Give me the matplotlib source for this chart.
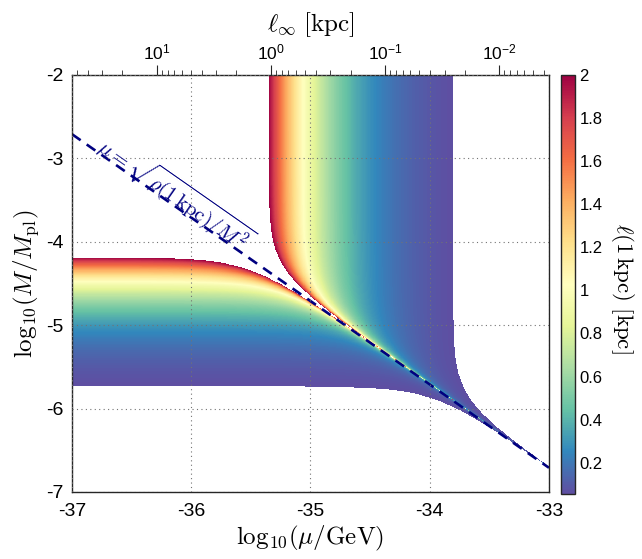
import numpy as np
import matplotlib
matplotlib.use("Agg")
import matplotlib.pyplot as plt

plt.rcParams['font.family'] = ['Liberation Sans', 'DejaVu Sans']
plt.rcParams['mathtext.fontset'] = 'cm'
plt.rcParams['axes.unicode_minus'] = False

# axis ranges (log10 mu/GeV, log10 M/Mpl) and top axis range in kpc
log_mu_lim = [-37, -33]
log_M_lim = [-7, -2]
ell_inf_lim = [55.2, 0.00365]
x_ticks = [-37, -36, -35, -34, -33]
y_ticks = [-7, -6, -5, -4, -3, -2]

# values
log_sqrt_rho = -39.71   # dashed line: log M = log_sqrt_rho - log mu
log_A = -35.053         # far above the line: ell = 10**log_A / mu
log_B = -35.215         # far below the line: ell = 10**log_B / mu_s(M)
ell_min, ell_max = 0.057, 2.0
cbar_ticks = [0.2, 0.4, 0.6, 0.8, 1.0, 1.2, 1.4, 1.6, 1.8, 2.0]
cbar_labels = ['0.2', '0.4', '0.6', '0.8', '1', '1.2', '1.4', '1.6', '1.8', '2']

navy = '#000080'

# ell(1 kpc) on a grid
x = np.linspace(log_mu_lim[0], log_mu_lim[1], 1400)
y = np.linspace(log_M_lim[0], log_M_lim[1], 1200)
X, Y = np.meshgrid(x, y)
log_mus = log_sqrt_rho - Y
r2 = 10.0 ** (2 * (X - log_mus))
with np.errstate(divide='ignore', invalid='ignore'):
    ell_above = 10.0 ** (log_A - X) / np.sqrt(1 - 1 / r2)
    ell_below = 10.0 ** (log_B - log_mus) / np.sqrt(1 - r2)
ell = np.where(r2 > 1, ell_above, ell_below)
ell = np.ma.masked_invalid(ell)
ell = np.ma.masked_outside(ell, ell_min, ell_max)

fig = plt.figure(figsize=(6.42, 5.59), dpi=100)
ax = fig.add_axes([0.1121, 0.1199, 0.7430, 0.7460])

cmap = plt.get_cmap('Spectral_r').copy()
cmap.set_bad('white')
im = ax.imshow(ell, extent=log_mu_lim + log_M_lim, origin='lower', aspect='auto',
               cmap=cmap, vmin=ell_min, vmax=ell_max, interpolation='nearest')

xl = np.array(log_mu_lim, dtype=float)
ax.plot(xl, log_sqrt_rho - xl, color=navy, lw=1.9, dashes=(4, 2.8))
ax.text(-36.80, -2.90, r'$\mu = \sqrt{\rho(1\,\mathrm{kpc})/M^2}$', color=navy,
        fontsize=15, rotation=-45, transform_rotates_text=True,
        rotation_mode='anchor', ha='left', va='baseline')

ax.set_xlim(log_mu_lim)
ax.set_ylim(log_M_lim)
ax.set_xticks(x_ticks)
ax.set_yticks(y_ticks)
ax.set_xticklabels([str(v) for v in x_ticks])
ax.set_yticklabels([str(v) for v in y_ticks])
ax.tick_params(length=0, labelsize=14)
ax.tick_params(axis='x', pad=8)
ax.tick_params(axis='y', pad=6)
ax.grid(True, linestyle=(0, (1, 3)), color='0.45', linewidth=0.8)
ax.set_axisbelow(False)
for s in ax.spines.values():
    s.set_color('0.15')
    s.set_linewidth(1.0)
ax.set_xlabel(r'$\mathrm{log}_{10}(\mu/\mathrm{GeV})$', fontsize=18, labelpad=3)
ax.set_ylabel(r'$\mathrm{log}_{10}(M/M_{\rm pl})$', fontsize=18, labelpad=4)

# top axis: ell_infinity
ax2 = ax.twiny()
ax2.set_xscale('log')
ax2.set_xlim(ell_inf_lim)
ax2.tick_params(which='major', direction='out', length=7, labelsize=12.5, colors='0.15',
                labelcolor='black', pad=2)
ax2.tick_params(which='minor', direction='out', length=3.5, colors='0.15')
for s in ax2.spines.values():
    s.set_visible(False)
ax2.set_xlabel(r'$\ell_\infty\ [\mathrm{kpc}]$', fontsize=18, labelpad=8)

# colorbar
cax = fig.add_axes([0.874, 0.117, 0.021, 0.749])
cb = fig.colorbar(im, cax=cax, ticks=cbar_ticks)
cb.ax.set_yticklabels(cbar_labels)
cb.ax.tick_params(length=0, labelsize=12)
cb.outline.set_linewidth(1.0)
cb.outline.set_edgecolor('0.15')
cb.set_label(r'$\ell(1\,\mathrm{kpc})\ [\mathrm{kpc}]$', rotation=270, fontsize=16.5,
             va='center', ha='center')
cb.ax.yaxis.set_label_coords(4.55, 0.49)

fig.savefig('out.png', dpi=100)
